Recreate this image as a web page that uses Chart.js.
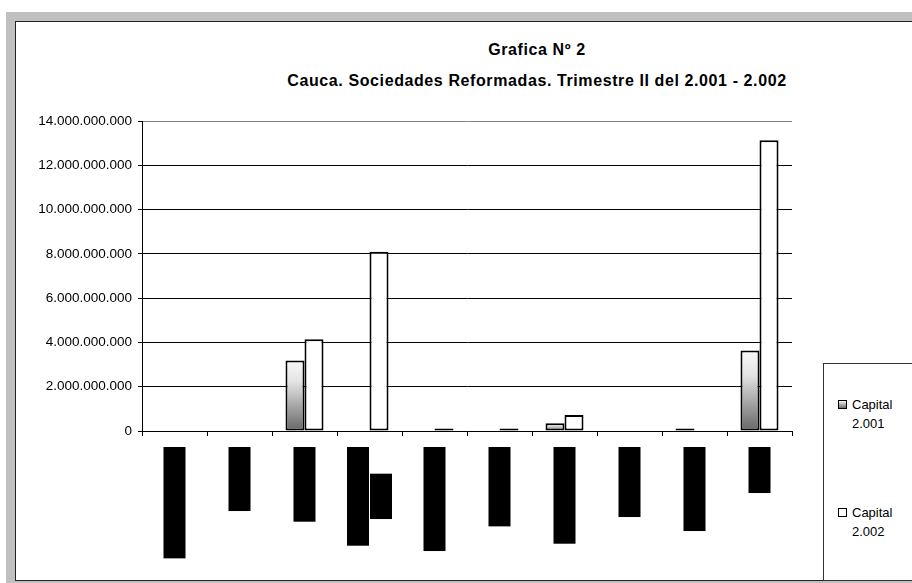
<!DOCTYPE html>
<html>
<head>
<meta charset="utf-8">
<script src="https://cdn.jsdelivr.net/npm/chart.js@4"></script>
<style>
  html, body { margin: 0; padding: 0; width: 912px; height: 583px; overflow: hidden; background: #fff; }
  body { position: relative; font-family: "Liberation Sans", Arial, sans-serif; }
  #gris { position: absolute; left: 6px; top: 12px; width: 906px; height: 571px; background: #c0c0c0; }
  #marco { position: absolute; left: 15px; top: 21px; width: 920px; height: 560px; box-sizing: border-box;
           border: 1px solid #222; background: #fff; }
  .titulo { position: absolute; left: 187px; width: 700px; text-align: center; font-weight: bold;
            font-size: 16px; line-height: 20px; letter-spacing: 0.6px; color: #000; }
  #grafica { position: absolute; left: 0; top: 0; }
  #leyenda { position: absolute; left: 823px; top: 363px; width: 120px; height: 218px; box-sizing: border-box;
             border: 1px solid #333; background: #fff; }
  .item { position: absolute; left: 852px; font-size: 13px; line-height: 19px; color: #000; }
  .marca { position: absolute; left: 838px; width: 7px; height: 7px; border: 1px solid #000; }
</style>
</head>
<body>
<div id="gris"></div>
<div id="marco"></div>
<div class="titulo" style="top:40px">Grafica Nº 2</div>
<div class="titulo" style="top:71px">Cauca. Sociedades Reformadas. Trimestre II del 2.001 - 2.002</div>
<canvas id="grafica" width="912" height="583"></canvas>
<div id="leyenda"></div>
<div class="marca" style="top:400px; background: linear-gradient(#f4f4f4, #6a6a6a);"></div>
<div class="item" style="top:395px">Capital<br>2.001</div>
<div class="marca" style="top:508px; background: #fff;"></div>
<div class="item" style="top:503px">Capital<br>2.002</div>

<script>
// Categorias (sectores) y capital por trimestre
const categorias = [
  "Agricultura y Pesca",
  "Extracción",
  "Manufactura",
  ["Electricidad, Gas", "y Agua"],
  "Construcción Civil",
  "Restaurantes",
  "Comunicaciones",
  "Financieros",
  "Servicios Soc.",
  "Totales",
];
const capital2001 = [0, 0, 3180000000, 0, 0, 0, 350000000, 0, 110000000, 3630000000];
const capital2002 = [0, 0, 4140000000, 8090000000, 110000000, 110000000, 720000000, 0, 0, 13130000000];
const ticksY = [0, 2000000000, 4000000000, 6000000000, 8000000000, 10000000000, 12000000000, 14000000000];

const fuente = '"Liberation Sans", Arial, sans-serif';

// formato con puntos de miles
function miles(v) {
  return String(v).replace(/\B(?=(\d{3})+(?!\d))/g, ".");
}

// degradado por barra (claro arriba, oscuro abajo)
function degradado(context) {
  const chart = context.chart;
  if (!chart.chartArea || !context.parsed) return "#aaa";
  const y = chart.scales.y;
  const arriba = y.getPixelForValue(context.parsed.y);
  const abajo = y.getPixelForValue(0);
  if (abajo - arriba < 1) return "#aaa";
  const g = chart.ctx.createLinearGradient(0, arriba, 0, abajo);
  g.addColorStop(0, "#f8f8f8");
  g.addColorStop(0.3, "#e4e4e4");
  g.addColorStop(1, "#666666");
  return g;
}

// etiquetas del eje x: texto vertical sobre bloque negro
const etiquetasX = {
  id: "etiquetasX",
  afterDraw(chart) {
    const { ctx, scales: { x } } = chart;
    ctx.save();
    ctx.font = "12px " + fuente;
    categorias.forEach((cat, i) => {
      const lineas = Array.isArray(cat) ? cat : [cat];
      const largos = lineas.map((l) => ctx.measureText(l).width + 8);
      const centroY = x.bottom + 11 + Math.max(...largos) / 2;
      lineas.forEach((l, j) => {
        const cx = x.getPixelForValue(i) + (j - (lineas.length - 1) / 2) * 23;
        ctx.fillStyle = "#000";
        ctx.fillRect(cx - 11, centroY - largos[j] / 2, 22, largos[j]);
        ctx.save();
        ctx.translate(cx, centroY);
        ctx.rotate(Math.PI / 2);
        ctx.textAlign = "center";
        ctx.textBaseline = "middle";
        ctx.fillText(l, 0, 0);
        ctx.restore();
      });
    });
    ctx.restore();
  },
};

const ctx = document.getElementById("grafica").getContext("2d");

new Chart(ctx, {
  type: "bar",
  data: {
    labels: categorias,
    datasets: [
      {
        label: "Capital 2.001",
        data: capital2001,
        backgroundColor: degradado,
        borderColor: "#000",
        borderWidth: 2,
        borderSkipped: false,
      },
      {
        label: "Capital 2.002",
        data: capital2002,
        backgroundColor: "#fff",
        borderColor: "#000",
        borderWidth: 2,
        borderSkipped: false,
      },
    ],
  },
  options: {
    responsive: false,
    animation: false,
    layout: { padding: { left: 16, right: 120, top: 121, bottom: 147 } },
    datasets: { bar: { categoryPercentage: 0.585, barPercentage: 1 } },
    plugins: { legend: { display: false }, title: { display: false }, tooltip: { enabled: false } },
    scales: {
      x: {
        grid: {
          offset: true,
          drawOnChartArea: true,
          color: (c) => (c.index === categorias.length ? "#808080" : "rgba(0,0,0,0)"),
          tickColor: "#000",
          tickLength: 5,
        },
        border: { color: "#000", width: 1 },
        ticks: { display: false },
      },
      y: {
        min: 0,
        max: 14000000000,
        afterBuildTicks: (s) => { s.ticks = ticksY.map((v) => ({ value: v })); },
        afterFit: (s) => { s.width = 126; },
        grid: {
          color: (c) => (c.tick && c.tick.value === 14000000000 ? "#808080" : "#000"),
          tickColor: "#000",
          tickLength: 4,
        },
        border: { color: "#000", width: 1 },
        ticks: {
          padding: 6,
          color: "#000",
          font: { family: fuente, size: 13.5 },
          callback: (v) => miles(v),
        },
      },
    },
  },
  plugins: [etiquetasX],
});
</script>
</body>
</html>
